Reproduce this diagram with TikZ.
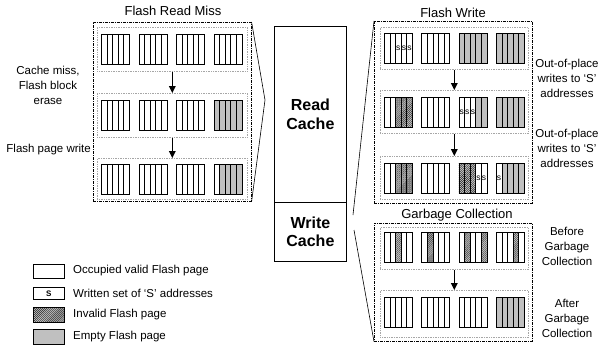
\documentclass[tikz,border=0pt]{standalone}
\usepackage{fontspec}
\setmainfont{Liberation Sans}
\usetikzlibrary{arrows.meta,patterns.meta}

\definecolor{emptygray}{RGB}{192,192,192}

\tikzset{
  page/.style={draw=black, line width=0.6pt, minimum width=5.6pt, minimum height=30pt, inner sep=0pt},
  pgw/.style={fill=white},
  pgs/.style={fill=white, label={[font=\fontsize{8.5}{8.5}\selectfont, inner sep=0pt]center:s}},
  pgh/.style={preaction={fill=gray!40}, pattern={Lines[angle=45,distance=1.4pt,line width=0.45pt]}, pattern color=black!85},
  pgg/.style={fill=emptygray},
  blockframe/.style={draw=black, line width=0.9pt, minimum width=28pt, minimum height=30pt, inner sep=0pt},
  panel/.style={draw=black, line width=0.6pt, dash pattern=on 3pt off 1pt on 1pt off 1pt, inner sep=0pt, anchor=north west},
  rowbox/.style={draw=gray!70, line width=0.6pt, dash pattern=on 0.8pt off 0.9pt, inner sep=0pt, anchor=north west},
  cachebox/.style={draw=black, line width=0.8pt, inner sep=0pt, anchor=north west, minimum width=72pt,
    font=\bfseries\fontsize{16}{18.5}\selectfont, align=center},
  stepflow/.style={line width=1.4pt, -{Triangle[length=7pt,width=6.5pt]}},
  callout/.style={line width=0.6pt},
  title/.style={font=\fontsize{13}{15}\selectfont, inner sep=0pt},
  note/.style={font=\fontsize{11.5}{15}\selectfont, align=center, inner sep=0pt},
  legtext/.style={font=\fontsize{11.5}{14}\selectfont, anchor=west, inner sep=0pt},
  legbox/.style={draw=black, line width=0.6pt, minimum width=31pt, inner sep=0pt, anchor=north west}
}

% one Flash block: name, x, y (top left), page kinds (w, s, h, g)
\newcommand\fblock[4]{%
  \foreach \k [count=\i] in {#4} {
    \node[page, pg\k, anchor=north west] (#1-\i) at ({#2+(\i-1)*5.6}, #3) {};
  }
  \node[blockframe, anchor=north west] (#1) at (#2,#3) {};
}

\begin{document}
\begin{tikzpicture}[x=1pt, y=-1pt]
\useasboundingbox (0,0) rectangle (606,349);

% ---------- Flash Read Miss ----------
\node[title] (ltitle) at (173,11) {Flash Read Miss};
\node[panel, minimum width=158pt, minimum height=179pt] (lfr) at (93,22) {};
\node[rowbox, minimum width=150pt, minimum height=44pt] (lr1) at (97,27) {};
\node[rowbox, minimum width=150pt, minimum height=44pt] (lr2) at (97,93) {};
\node[rowbox, minimum width=150pt, minimum height=41pt] (lr3) at (97,158) {};

\fblock{la1}{101}{34}{w,w,w,w,w}
\fblock{la2}{138.5}{34}{w,w,w,w,w}
\fblock{la3}{176}{34}{w,w,w,w,w}
\fblock{la4}{213.5}{34}{w,w,w,w,w}

\fblock{lb1}{101}{100}{w,w,w,w,w}
\fblock{lb2}{138.5}{100}{w,w,w,w,w}
\fblock{lb3}{176}{100}{w,w,w,w,w}
\fblock{lb4}{213.5}{100}{g,g,g,g,g}

\fblock{lc1}{101}{164}{w,w,w,w,w}
\fblock{lc2}{138.5}{164}{w,w,w,w,w}
\fblock{lc3}{176}{164}{w,w,w,w,w}
\fblock{lc4}{213.5}{164}{w,g,g,g,g}

\draw[stepflow] (lr1.south) -- (lr2.north);
\draw[stepflow] (lr2.south) -- (lr3.north);

\node[note] (lnote1) at (48,85) {Cache miss,\\Flash block\\erase};
\node[note, anchor=east] (lnote2) at (91,150) {Flash page write};

% ---------- Cache ----------
\node[cachebox, minimum height=176pt] (rc) at (274,26) {Read\\Cache};
\node[cachebox, minimum height=59pt] (wc) at (274,202) {Write\\Cache};

\coordinate (lapex) at (265,100);
\coordinate (rtop) at (353,215);
\coordinate (rbot) at (354,230);

% ---------- Flash Write ----------
\node[title] (wtitle) at (453,13) {Flash Write};
\node[panel, minimum width=158pt, minimum height=182pt] (fw) at (374,21) {};
\node[rowbox, minimum width=148pt, minimum height=42pt] (wr1) at (380,27) {};
\node[rowbox, minimum width=148pt, minimum height=43pt] (wr2) at (380,90) {};
\node[rowbox, minimum width=148pt, minimum height=43pt] (wr3) at (380,156) {};

\fblock{wa1}{384}{33}{w,w,s,s,s}
\fblock{wa2}{421.3}{33}{w,w,w,w,w}
\fblock{wa3}{458.6}{33}{g,g,g,g,g}
\fblock{wa4}{496}{33}{g,g,g,g,g}

\fblock{wb1}{384}{97}{w,w,h,h,h}
\fblock{wb2}{421.3}{97}{w,w,w,w,w}
\fblock{wb3}{458.6}{97}{s,s,s,g,g}
\fblock{wb4}{496}{97}{g,g,g,g,g}

\fblock{wc1}{384}{163}{w,w,h,h,h}
\fblock{wc2}{421.3}{163}{w,w,w,w,w}
\fblock{wc3}{458.6}{163}{h,h,h,s,s}
\fblock{wc4}{496}{163}{s,g,g,g,g}

\draw[stepflow] (wr1.south) -- (wr2.north);
\draw[stepflow] (wr2.south) -- (wr3.north);

\node[note] (wnote1) at (567,78) {Out-of-place\\writes to `S'\\addresses};
\node[note] (wnote2) at (567,148) {Out-of-place\\writes to `S'\\addresses};

% ---------- Garbage Collection ----------
\node[title] (gtitle) at (457,215) {Garbage Collection};
\node[panel, minimum width=158pt, minimum height=118pt] (gc) at (374,223) {};
\node[rowbox, minimum width=148pt, minimum height=42pt] (gr1) at (380,227) {};
\node[rowbox, minimum width=148pt, minimum height=47pt] (gr2) at (380,290) {};

\fblock{ga1}{384}{232}{w,w,h,w,w}
\fblock{ga2}{421.3}{232}{w,h,w,w,w}
\fblock{ga3}{458.6}{232}{w,h,w,w,h}
\fblock{ga4}{496}{232}{w,w,w,h,w}

\fblock{gb1}{384}{297}{w,w,w,w,w}
\fblock{gb2}{421.3}{297}{w,w,w,w,w}
\fblock{gb3}{458.6}{297}{w,w,w,w,w}
\fblock{gb4}{496}{297}{g,g,g,g,g}

\draw[stepflow] (gr1.south) -- (gr2.north);

\node[note] (gnote1) at (567,246) {Before\\Garbage\\Collection};
\node[note] (gnote2) at (567,318) {After\\Garbage\\Collection};

% ---------- callout lines ----------
\draw[callout] (lfr.north east) -- (lapex) -- (lfr.south east);
\draw[callout] (fw.north west) -- (rtop);
\draw[callout] (rbot) -- (gc.south west);

% ---------- legend ----------
\node[legbox, minimum height=14pt] (k1) at (33,264) {};
\node[legbox, minimum height=12pt, font=\bfseries\fontsize{8}{8}\selectfont] (k2) at (33,287) {S};
\node[legbox, minimum height=15pt, pgh] (k3) at (33,307) {};
\node[legbox, minimum height=15pt, pgg] (k4) at (33,329) {};
\node[legtext] (t1) at (73,271) {Occupied valid Flash page};
\node[legtext] (t2) at (73,293) {Written set of `S' addresses};
\node[legtext] (t3) at (73,314.5) {Invalid Flash page};
\node[legtext] (t4) at (73,336.5) {Empty Flash page};
\end{tikzpicture}
\end{document}
